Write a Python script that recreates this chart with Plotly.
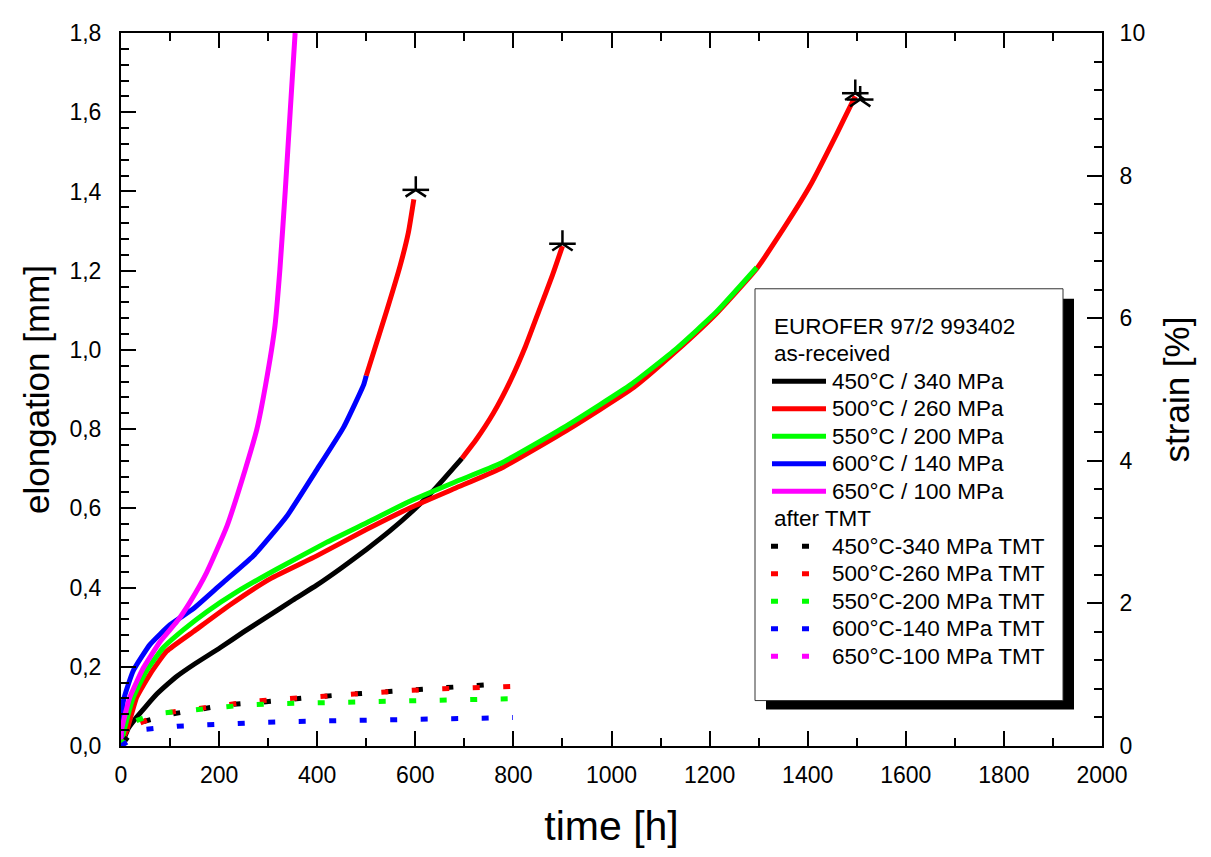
import plotly.graph_objects as go

# ---------------- data ----------------
# as-received, time [h] / elongation [mm]
t_450 = [0, 5, 15, 32, 50, 73, 95, 114, 150, 202, 250, 304, 350, 399, 450, 501, 550, 589, 637, 695]
e_450 = [0, 0.015, 0.045, 0.073, 0.099, 0.131, 0.156, 0.176, 0.207, 0.248, 0.288, 0.331, 0.368, 0.406, 0.450, 0.497, 0.545, 0.587, 0.645, 0.726]

t_500 = [0, 3, 12, 32, 59, 93, 148, 222, 304, 399, 501, 589, 680, 773, 909, 1045, 1133, 1214, 1296, 1337, 1405, 1459, 1490, 1497]
e_500 = [0, 0.015, 0.040, 0.123, 0.181, 0.239, 0.289, 0.356, 0.422, 0.480, 0.547, 0.601, 0.650, 0.700, 0.797, 0.905, 0.998, 1.092, 1.205, 1.280, 1.415, 1.545, 1.623, 1.640]

t_550 = [0, 3, 8, 25, 52, 86, 127, 175, 236, 318, 419, 508, 589, 680, 773, 909, 1040, 1133, 1214, 1296]
e_550 = [0, 0.020, 0.048, 0.123, 0.190, 0.248, 0.293, 0.339, 0.389, 0.447, 0.514, 0.568, 0.618, 0.666, 0.713, 0.809, 0.913, 1.004, 1.096, 1.208]

t_600 = [0, 1, 5, 25, 59, 100, 148, 202, 270, 338, 399, 454, 495, 500]
e_600 = [0, 0.040, 0.115, 0.190, 0.256, 0.306, 0.347, 0.406, 0.480, 0.580, 0.697, 0.805, 0.913, 0.935]

t_650 = [0, 1, 18, 46, 80, 114, 141, 175, 216, 253, 277, 295, 314, 324, 335, 345, 355]
e_650 = [0, 0.040, 0.123, 0.198, 0.264, 0.314, 0.364, 0.439, 0.555, 0.697, 0.800, 0.913, 1.062, 1.204, 1.404, 1.603, 1.800]

# further red-coloured segments continuing other curves
t_red_a = [695, 725, 759, 793, 825, 854, 880, 900]
e_red_a = [0.726, 0.775, 0.840, 0.920, 1.010, 1.105, 1.190, 1.262]
t_red_b = [500, 542, 569, 586, 597]
e_red_b = [0.935, 1.100, 1.212, 1.297, 1.380]

# rupture points (stars)
t_rupt = [601, 900, 1497, 1507]
e_rupt = [1.404, 1.268, 1.648, 1.632]

# after TMT
t_450T = [0, 35, 96, 157, 215, 280, 345, 406, 470, 531, 593, 654, 711, 776]
e_450T = [0, 0.058, 0.079, 0.092, 0.104, 0.110, 0.119, 0.125, 0.131, 0.136, 0.142, 0.148, 0.153, 0.157]
t_500T = [0, 35, 86, 151, 211, 271, 334, 398, 460, 521, 581, 645, 707, 769, 832]
e_500T = [0, 0.056, 0.083, 0.094, 0.1055, 0.113, 0.119, 0.125, 0.131, 0.135, 0.140, 0.144, 0.147, 0.151, 0.152]
t_550T = [0, 25, 69, 134, 196, 257, 321, 385, 446, 510, 568, 631, 692, 755, 818]
e_550T = [0, 0.061, 0.0815, 0.090, 0.098, 0.104, 0.107, 0.109, 0.110, 0.113, 0.115, 0.116, 0.117, 0.120, 0.120]
t_600T = [0, 51, 114, 175, 233, 296, 359, 422, 485, 549, 611, 674, 737, 799]
e_600T = [0, 0.042, 0.050, 0.054, 0.058, 0.060, 0.062, 0.064, 0.065, 0.066, 0.068, 0.069, 0.070, 0.072]
t_650T = []
e_650T = []

legend_title = "EUROFER 97/2 993402"
group_ar = "as-received"
group_tmt = "after TMT"
names_ar = ["450°C / 340 MPa", "500°C / 260 MPa", "550°C / 200 MPa", "600°C / 140 MPa", "650°C / 100 MPa"]
names_tmt = ["450°C-340 MPa TMT", "500°C-260 MPa TMT", "550°C-200 MPa TMT", "600°C-140 MPa TMT", "650°C-100 MPa TMT"]
colors = ["#000000", "#FF0000", "#00FF00", "#0000FF", "#FF00FF"]

FONT = "Arial, Liberation Sans, sans-serif"
DOTS = "7px,23.5px"
DOTS_SHIFTED = "0px,4px,7px,19.5px"   # same dotted style, phase shifted so overlapping dots stay visible
SMOOTH = 0.45

fig = go.Figure()

ar_data = [(t_450, e_450), (t_500, e_500), (t_550, e_550), (t_600, e_600), (t_650, e_650)]
tmt_data = [(t_450T, e_450T), (t_500T, e_500T), (t_550T, e_550T), (t_600T, e_600T), (t_650T, e_650T)]

for (t, e), n, c in zip(ar_data, names_ar, colors):
    fig.add_trace(go.Scatter(x=t, y=e, mode="lines", name=n, showlegend=False,
                             line=dict(color=c, width=5, shape="spline", smoothing=SMOOTH)))

for (t, e) in [(t_red_a, e_red_a), (t_red_b, e_red_b)]:
    fig.add_trace(go.Scatter(x=t, y=e, mode="lines", name=names_ar[1], showlegend=False,
                             line=dict(color="#FF0000", width=5, shape="spline", smoothing=SMOOTH)))

# rupture stars (5-armed asterisk built from two symbols)
for sym, sz in [("y-up-open", 17), ("line-ew-open", 19)]:
    fig.add_trace(go.Scatter(x=t_rupt, y=e_rupt, mode="markers", showlegend=False, name="rupture",
                             marker=dict(symbol=sym, size=sz, color="black",
                                         line=dict(color="black", width=2.5))))

for i, ((t, e), n, c) in enumerate(zip(tmt_data, names_tmt, colors)):
    fig.add_trace(go.Scatter(x=t if t else [None], y=e if e else [None], mode="lines", name=n,
                             showlegend=False,
                             line=dict(color=c, width=5, dash=DOTS_SHIFTED if i == 0 else DOTS)))

# invisible trace to activate the right (strain) axis
fig.add_trace(go.Scatter(x=[None], y=[None], yaxis="y2", showlegend=False, hoverinfo="skip"))

# ---------------- legend box drawn in the plot (pixel layout -> paper) ----------------
X0, X1, Y0, Y1 = 121.0, 1102.0, 24.0, 746.0


def px(x):
    return (x - X0) / (X1 - X0)


def py(y):
    return (Y1 - y) / (Y1 - Y0)


shapes = [
    dict(type="rect", xref="paper", yref="paper", x0=px(766), x1=px(1074), y0=py(709), y1=py(293),
         fillcolor="black", line=dict(width=0), layer="above"),
    dict(type="rect", xref="paper", yref="paper", x0=px(755), x1=px(1063), y0=py(700), y1=py(283),
         fillcolor="white", line=dict(color="#333333", width=1), layer="above"),
]
annotations = []
row0, drow = 321.0, 27.85
rows = [legend_title, group_ar] + names_ar + [group_tmt] + names_tmt
for k, txt in enumerate(rows):
    yy = row0 + k * drow
    is_header = txt in (legend_title, group_ar, group_tmt)
    annotations.append(dict(xref="paper", yref="paper", x=px(772 if is_header else 830), y=py(yy),
                            xanchor="left", yanchor="middle", showarrow=False, text=txt,
                            font=dict(family=FONT, size=22.5, color="black")))
for i, c in enumerate(colors):
    yy = py(row0 + (2 + i) * drow)
    shapes.append(dict(type="line", xref="paper", yref="paper", x0=px(772), x1=px(826), y0=yy, y1=yy,
                       line=dict(color=c, width=5), layer="above"))
    yy2 = py(row0 + (8 + i) * drow)
    shapes.append(dict(type="line", xref="paper", yref="paper", x0=px(771), x1=px(809), y0=yy2, y1=yy2,
                       line=dict(color=c, width=5, dash="7px,24px"), layer="above"))

axis_common = dict(showgrid=False, zeroline=False, showline=True, linewidth=2, linecolor="black",
                   ticks="inside", ticklen=15, tickwidth=2, tickcolor="black",
                   tickfont=dict(family=FONT, size=23, color="black"))

fig.update_layout(
    width=1211, height=857,
    margin=dict(l=113, r=117, t=16, b=119),
    paper_bgcolor="white", plot_bgcolor="white",
    separators=",.",
    font=dict(family=FONT, color="black"),
    showlegend=False,
    xaxis=dict(range=[0, 2000], dtick=200, tick0=0, mirror="ticks", ticklabelstandoff=7,
               minor=dict(dtick=100, ticklen=8, tickwidth=2, tickcolor="black", ticks="inside"),
               title=dict(text="time [h]", font=dict(family=FONT, size=41, color="black"), standoff=25),
               **axis_common),
    yaxis=dict(range=[0, 1.8], dtick=0.2, tick0=0, tickformat=".1f", ticklabelstandoff=13,
               minor=dict(dtick=0.04, ticklen=8, tickwidth=2, tickcolor="black", ticks="inside"),
               title=dict(text="elongation [mm]", font=dict(family=FONT, size=35, color="black"), standoff=9),
               **axis_common),
    yaxis2=dict(range=[0, 10], dtick=2, tick0=0, overlaying="y", side="right", ticklabelstandoff=11,
                minor=dict(dtick=0.4, ticklen=8, tickwidth=2, tickcolor="black", ticks="inside"),
                title=dict(text="strain [%]", font=dict(family=FONT, size=35, color="black"), standoff=20),
                **axis_common),
    shapes=shapes,
    annotations=annotations,
)

fig.write_html("out.html")
